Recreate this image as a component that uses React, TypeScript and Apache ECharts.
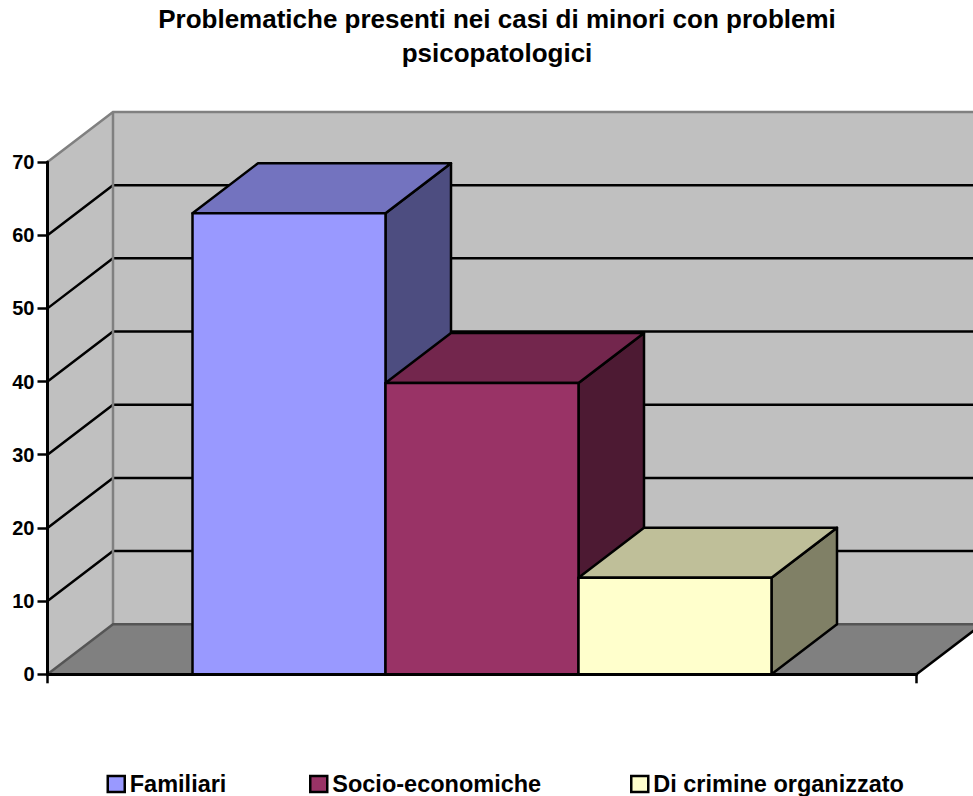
import React, { useEffect, useRef } from "react";
import * as echarts from "echarts";

const titleText = "Problematiche presenti nei casi di minori con problemi\npsicopatologici";
const categories = ["Problematiche"];
const yTicks = [0, 10, 20, 30, 40, 50, 60, 70];
const familiari = [63];
const socioEconomiche = [39.8];
const crimineOrganizzato = [13.2];
const seriesNames = ["Familiari", "Socio-economiche", "Di crimine organizzato"];
const frontColors = ["#9999FF", "#993366", "#FFFFCC"];
const topColors = ["#7373BF", "#73264D", "#BFBF99"];
const sideColors = ["#4D4D80", "#4D1A33", "#808066"];
const legendLefts = [106.5, 309, 630];

const DX = 65.5;
const DY = -50;
const BAR_RATIO = 193 / 869;
const FONT = "'Liberation Sans', Arial, sans-serif";

function wallsRenderItem(params: any, api: any) {
  const cs = params.coordSys;
  const x0 = cs.x;
  const x1 = cs.x + cs.width;
  const yb = cs.y + cs.height;
  const yt = cs.y;
  const children: any[] = [
    { type: "polygon", shape: { points: [[x0, yb], [x0 + DX, yb + DY], [x0 + DX, yt + DY], [x0, yt]] }, style: { fill: "#C0C0C0", stroke: "none" } },
    { type: "polygon", shape: { points: [[x0 + DX, yb + DY], [x1 + DX, yb + DY], [x1 + DX, yt + DY], [x0 + DX, yt + DY]] }, style: { fill: "#C0C0C0", stroke: "none" } },
    { type: "polygon", shape: { points: [[x0, yb], [x0 + DX, yb + DY], [x1 + DX, yb + DY], [x1, yb]] }, style: { fill: "#808080", stroke: "none" } },
  ];
  yTicks.forEach((t) => {
    if (t === 0 || t === 70) return;
    const y = api.coord([0, t])[1];
    children.push({
      type: "polyline",
      shape: { points: [[x0, y], [x0 + DX, y + DY], [x1 + DX, y + DY]] },
      style: { fill: "none", stroke: "#000", lineWidth: 2.5 },
    });
  });
  children.push(
    { type: "polyline", shape: { points: [[x0, yt], [x0 + DX, yt + DY], [x1 + DX, yt + DY]] }, style: { fill: "none", stroke: "#808080", lineWidth: 2.5 } },
    { type: "line", shape: { x1: x0 + DX, y1: yt + DY, x2: x0 + DX, y2: yb + DY }, style: { stroke: "#808080", lineWidth: 2.5 } },
    { type: "polyline", shape: { points: [[x0, yb], [x0 + DX, yb + DY], [x1 + DX, yb + DY]] }, style: { fill: "none", stroke: "#555555", lineWidth: 2.5 } },
    { type: "line", shape: { x1: x1, y1: yb, x2: x1 + DX, y2: yb + DY }, style: { stroke: "#000", lineWidth: 2.5 } },
  );
  return { type: "group", children };
}

function barRenderItem(idx: number) {
  return (params: any, api: any) => {
    const v = api.value(1);
    const bottom = api.coord([0, 0]);
    const top = api.coord([0, v]);
    const band = api.size([1, 0])[0];
    const w = band * BAR_RATIO;
    const l = bottom[0] + (idx - 1.5) * w;
    const r = l + w;
    const yT = top[1];
    const yB = bottom[1];
    const stroke = { stroke: "#000", lineWidth: 2.5, lineJoin: "round" };
    return {
      type: "group",
      children: [
        { type: "polygon", shape: { points: [[r, yB], [r + DX, yB + DY], [r + DX, yT + DY], [r, yT]] }, style: { fill: sideColors[idx], ...stroke } },
        { type: "polygon", shape: { points: [[l, yT], [l + DX, yT + DY], [r + DX, yT + DY], [r, yT]] }, style: { fill: topColors[idx], ...stroke } },
        { type: "rect", shape: { x: l, y: yT, width: w, height: yB - yT }, style: { fill: frontColors[idx], ...stroke } },
      ],
    };
  };
}

export default function App() {
  const ref = useRef<HTMLDivElement>(null);
  useEffect(() => {
    document.body.style.margin = "0";
    const chart = echarts.init(ref.current!, undefined, { renderer: "svg" });
    const values = [familiari, socioEconomiche, crimineOrganizzato];
    chart.setOption({
      animation: false,
      backgroundColor: "#fff",
      title: {
        text: titleText,
        left: 497,
        top: 2,
        textAlign: "center",
        padding: 0,
        textStyle: { fontFamily: FONT, fontWeight: "bold", fontSize: 26, lineHeight: 34, color: "#000" },
      },
      legend: seriesNames.map((n, i) => ({
        data: [{ name: n, icon: "rect" }],
        left: legendLefts[i],
        top: 772,
        itemWidth: 17,
        itemHeight: 16,
        itemGap: 0,
        padding: 0,
        selectedMode: false,
        itemStyle: { borderColor: "#000", borderWidth: 2.5 },
        textStyle: { fontFamily: FONT, fontWeight: "bold", fontSize: 23.5, color: "#000" },
      })),
      grid: { left: 47.5, top: 162, width: 869, height: 512.3, containLabel: false },
      xAxis: {
        type: "category",
        data: categories,
        z: 5,
        axisLine: { show: true, lineStyle: { color: "#000", width: 3 } },
        axisTick: { show: true, length: 9, lineStyle: { color: "#000", width: 2.5 } },
        axisLabel: { show: false },
      },
      yAxis: {
        type: "value",
        min: 0,
        max: 70,
        interval: 10,
        z: 5,
        axisLine: { show: true, lineStyle: { color: "#000", width: 3 } },
        axisTick: { show: true, length: 10, lineStyle: { color: "#000", width: 2.5 } },
        axisLabel: { margin: 13, fontFamily: FONT, fontWeight: "bold", fontSize: 20, color: "#000" },
        splitLine: { show: false },
      },
      series: [
        {
          type: "custom",
          silent: true,
          clip: false,
          z: 1,
          renderItem: wallsRenderItem,
          encode: { x: 0, y: 1 },
          data: [[0, 0]],
          legendHoverLink: false,
        },
        ...seriesNames.map((n, i) => ({
          type: "custom",
          name: n,
          clip: false,
          z: 2 + i,
          itemStyle: { color: frontColors[i] },
          renderItem: barRenderItem(i),
          encode: { x: 0, y: 1 },
          data: [[0, values[i][0]]],
        })),
      ],
    });
    return () => chart.dispose();
  }, []);
  return <div ref={ref} style={{ width: 973, height: 796 }} />;
}
